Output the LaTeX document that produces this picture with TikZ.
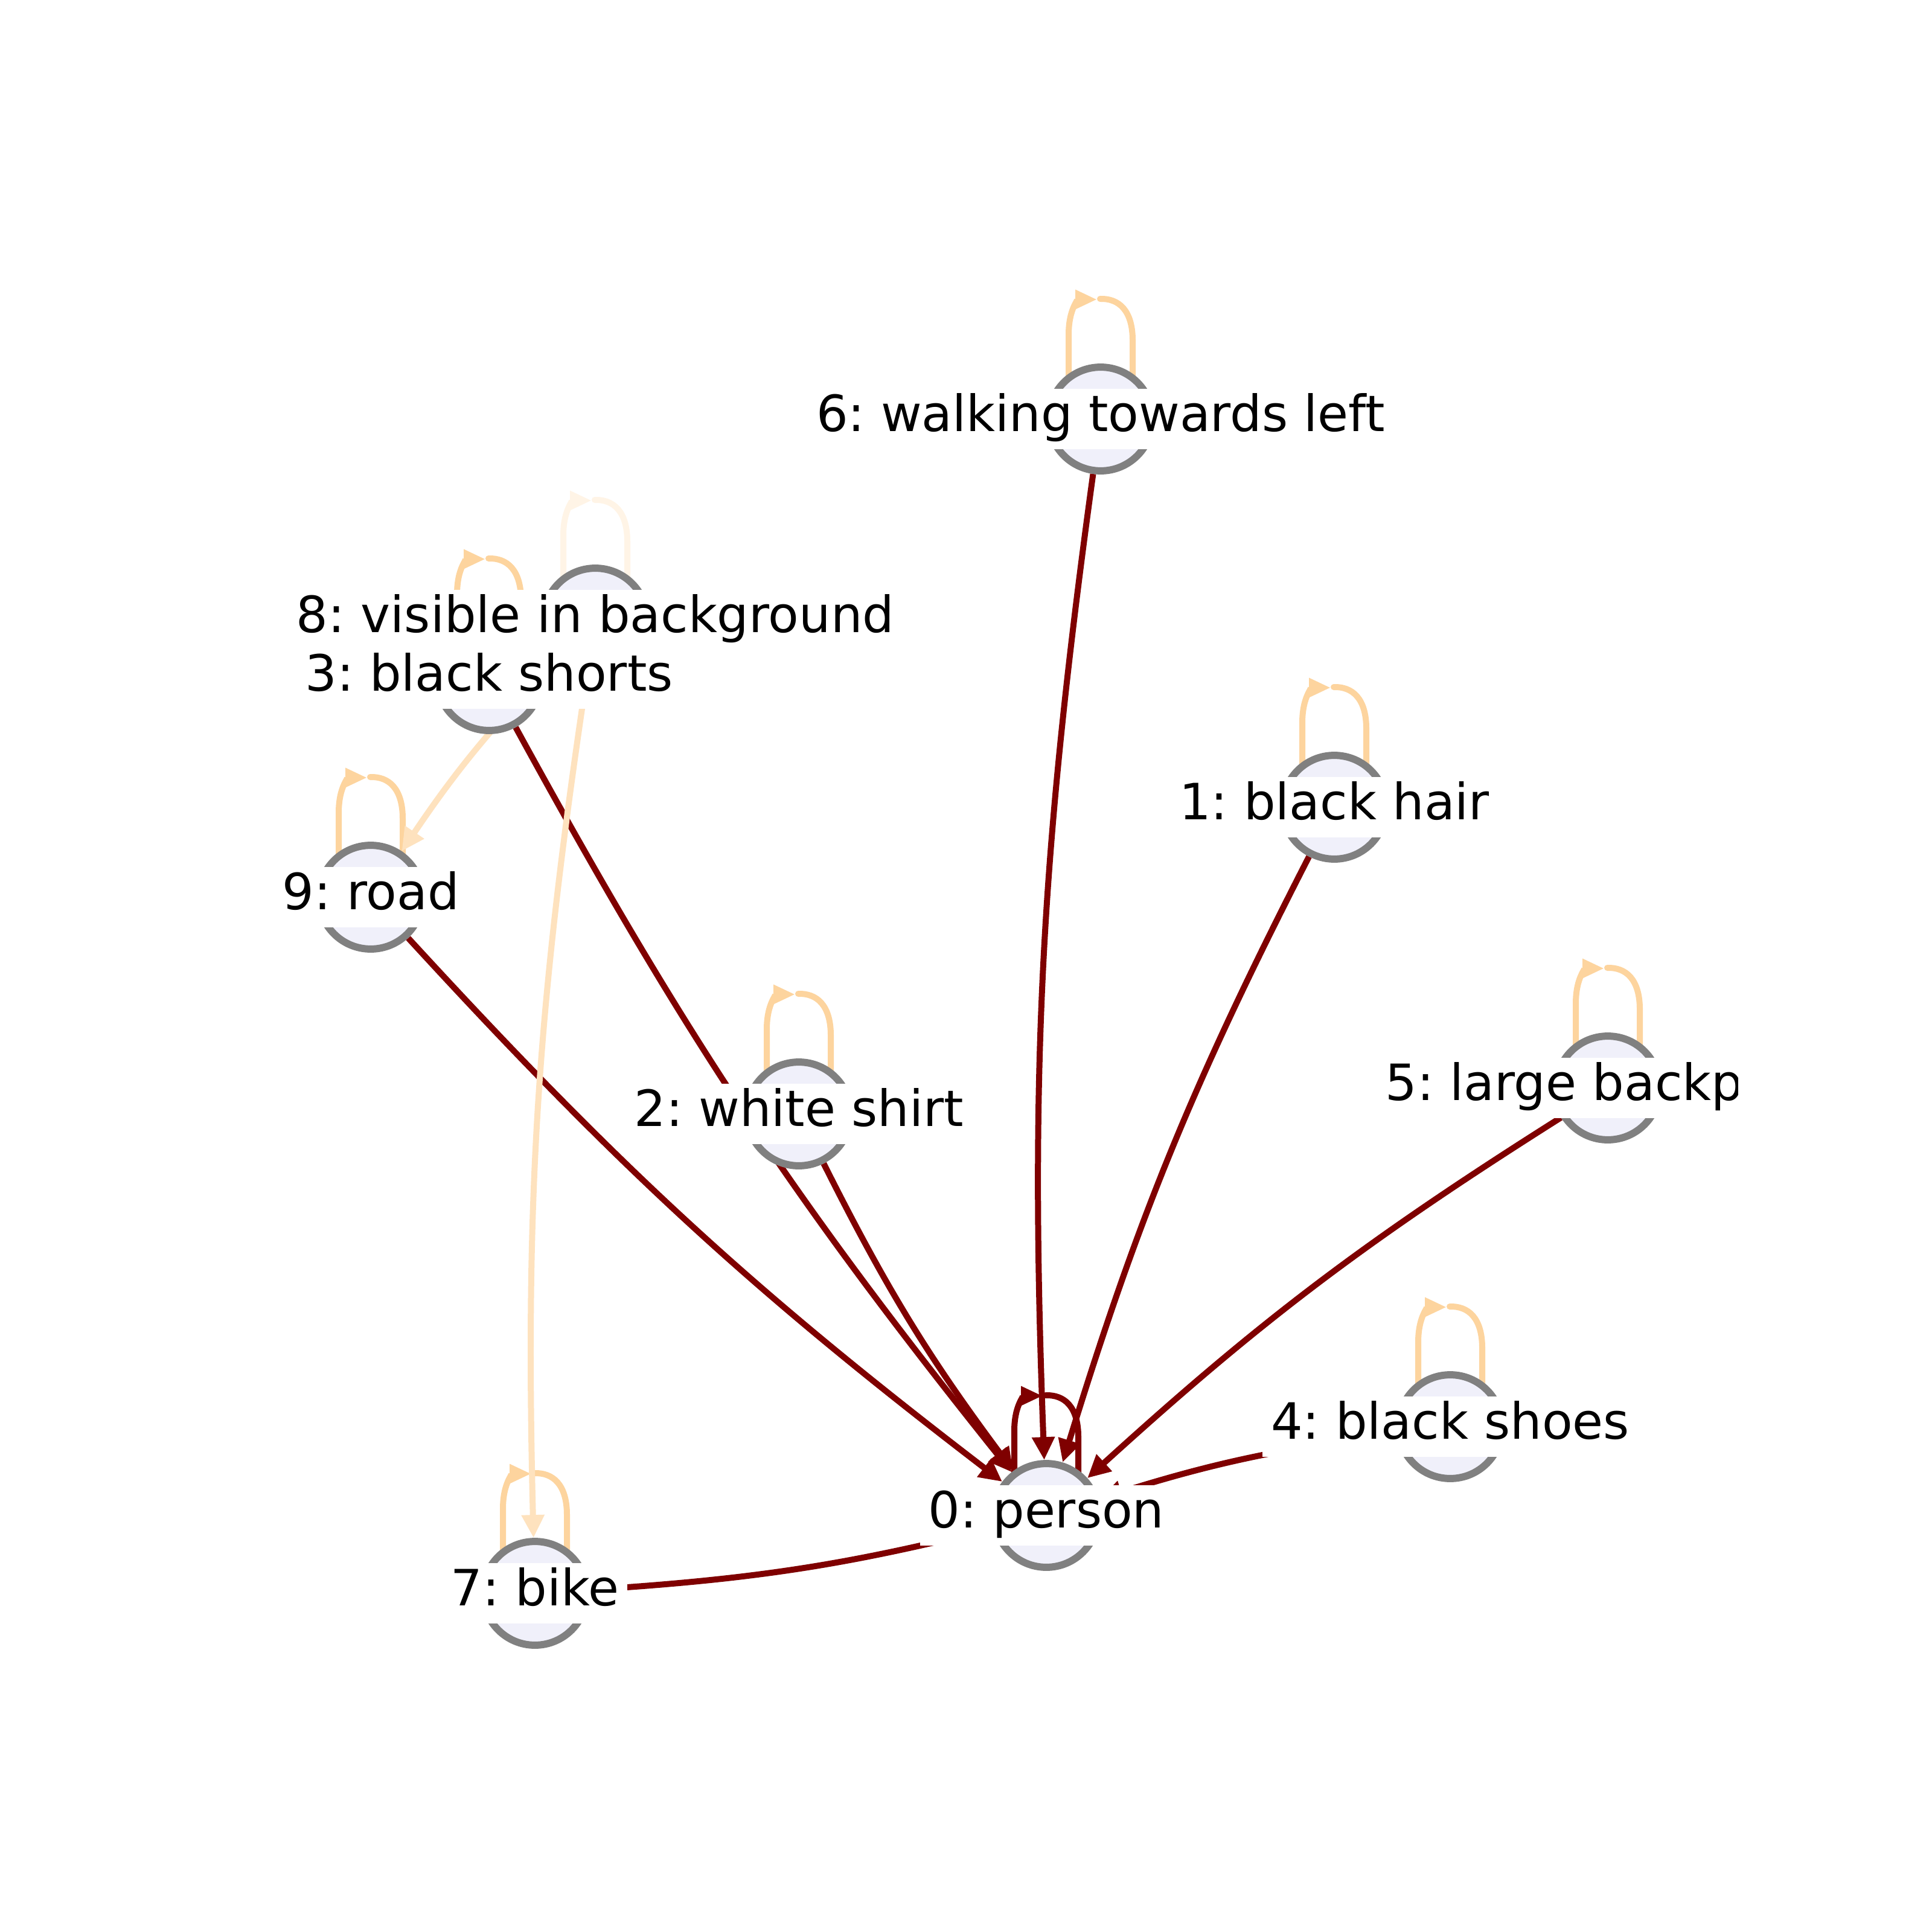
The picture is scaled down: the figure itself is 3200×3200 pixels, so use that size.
\documentclass[tikz,border=0pt]{standalone}
\usepackage{fontspec}
\setmainfont{DejaVu Sans}
\usetikzlibrary{arrows.meta,backgrounds}
\definecolor{edgedark}{HTML}{7F0000}
\definecolor{edgepeach}{HTML}{FDD49E}
\definecolor{edgepale}{HTML}{FEE2BE}
\definecolor{edgefaint}{HTML}{FFF4E6}
\definecolor{nodefill}{HTML}{F0F0FA}
\frenchspacing
\tikzset{
  ent/.style={circle, draw=gray, fill=nodefill, line width=0.06cm, minimum size=0.86cm, inner sep=0pt},
  tag/.style={fill=white, inner xsep=0.07cm, inner ysep=0.075cm, text height=0.79em, text depth=0.21em,
    font=\fontsize{11.8}{14}\selectfont},
  rel/.style={line width=0.05cm},
  tip/.style={-{Triangle[length=0.19cm,width=0.18cm]}},
}
% self-loop drawn above a node
\newcommand{\loopat}[2]{%
  \begin{scope}[shift={(#1.center)}]
    \draw[rel, #2, -{Triangle[length=0.18cm,width=0.15cm]}] (-53,-40) -- (-53,-140)
      .. controls (-53,-185) and (-35,-198) .. (-6,-198);
    \draw[rel, #2, line cap=round] (-1,-199) .. controls (30,-200) and (53,-180) .. (53,-130) -- (53,-40);
  \end{scope}}

\begin{document}
\begin{tikzpicture}[x=0.005cm, y=-0.005cm]
    \useasboundingbox (0,0) rectangle (3200,3200);
    \clip (0,0) rectangle (2878,3200);

    % objects
    \node[ent] (n0) at (1733,2510) {};
    \node[ent] (n1) at (2210,1337) {};
    \node[ent] (n2) at (1323,1845) {};
    \node[ent] (n3) at (810,1124) {};
    \node[ent] (n4) at (2402,2363) {};
    \node[ent] (n5) at (2663,1802) {};
    \node[ent] (n6) at (1823,694) {};
    \node[ent] (n7) at (886,2639) {};
    \node[ent] (n8) at (986,1027) {};
    \node[ent] (n9) at (614,1486) {};

    \begin{pgfonlayer}{background}
        \fill[white] (0,0) rectangle (3200,3200);
        % relations to the person
        \draw[rel, edgedark, tip] (n6) to[bend right=5] (n0);
        \draw[rel, edgedark, tip] (n1) to[bend right=5] (n0);
        \draw[rel, edgedark, tip] (n5) to[bend right=5] (n0);
        \draw[rel, edgedark, tip] (n4) to[bend right=5] (n0);
        \draw[rel, edgedark, tip] (n7) to[bend right=5] (n0);
        \draw[rel, edgedark, tip] (n9) to[bend right=5] (n0);
        \draw[rel, edgedark, tip] (n3) to[bend right=5] (n0);
        \draw[rel, edgedark, tip] (n2) to[bend right=5] (n0);
        % self-loops
        \loopat{n0}{edgedark}
        \loopat{n1}{edgepeach}
        \loopat{n2}{edgepeach}
        \loopat{n3}{edgepeach}
        \loopat{n4}{edgepeach}
        \loopat{n5}{edgepeach}
        \loopat{n6}{edgepeach}
        \loopat{n7}{edgepeach}
        \loopat{n8}{edgefaint}
        \loopat{n9}{edgepeach}
        % weak relations from the background
        \draw[rel, edgepale, tip] (n8) to[bend right=5] (n9);
        \draw[rel, edgepale, tip] (n8) to[bend right=5] (n7);
    \end{pgfonlayer}

    % labels
    \node[tag] (t0) at (n0) {0: person};
    \node[tag] (t1) at (n1) {1: black hair};
    \node[tag] (t2) at (n2) {2: white shirt};
    \node[tag] (t4) at (n4) {4: black shoes};
    \node[tag] (t5) at (n5) {5: large backpack};
    \node[tag] (t6) at (n6) {6: walking towards left};
    \node[tag] (t7) at (n7) {7: bike};
    \node[tag] (t8) at (n8) {8: visible in background};
    \node[tag] (t3) at (n3) {3: black shorts};
    \node[tag] (t9) at (n9) {9: road};
\end{tikzpicture}
\end{document}
